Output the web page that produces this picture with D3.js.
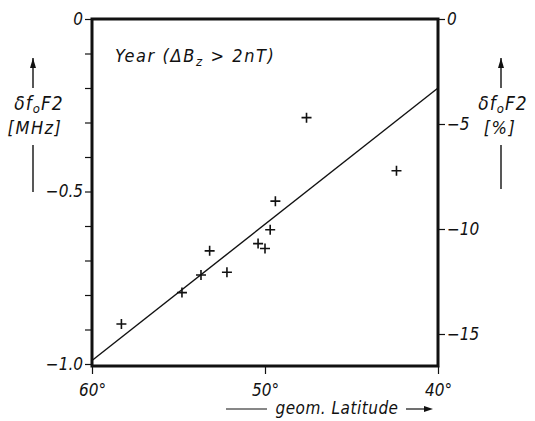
<!DOCTYPE html>
<html>
<head>
<meta charset="utf-8">
<script src="https://cdn.jsdelivr.net/npm/d3@7"></script>
<style>
  body { margin: 0; background: #fff; }
  text { font-family: "DejaVu Sans Condensed", "DejaVu Sans", sans-serif; font-style: italic; fill: #111; }
</style>
</head>
<body>
<svg id="chart" width="535" height="421"></svg>
<script>
// DATA
var latitude = [58.3, 54.8, 53.7, 53.2, 52.2, 50.4, 50.0, 49.7, 49.4, 47.6, 42.4];
var deltaFoF2 = [-0.884, -0.793, -0.742, -0.672, -0.734, -0.651, -0.665, -0.611, -0.528, -0.286, -0.440];
var fitLat = [60, 40];
var fitVal = [-0.99, -0.20];
var xTicks = [60, 50, 40];
var leftTicks = d3.range(0, 11).map(function(i) { return -i / 10; });
var leftLabels = [0, -0.5, -1.0];
var rightTicks = [0, -5, -10, -15];

var svg = d3.select('#chart');
var pLeft = 92, pRight = 438, pTop = 19, pBottom = 364, frameBottom = 366;

// Scales
var x = d3.scaleLinear().domain([60, 40]).range([pLeft, pRight]);
var y = d3.scaleLinear().domain([0, -1]).range([pTop, pBottom]);
var yPct = d3.scaleLinear().domain([0, -5]).range([pTop, 124]);

// Frame
svg.append('rect')
   .attr('x', pLeft).attr('y', pTop)
   .attr('width', pRight - pLeft).attr('height', frameBottom - pTop)
   .style('fill', 'none').style('stroke', '#111').style('stroke-width', 3);

// Left axis
var leftAxis = d3.axisLeft(y).tickValues(leftTicks).tickSize(7).tickPadding(2)
   .tickFormat(function(d) {
       var hit = leftLabels.some(function(v) { return Math.abs(v - d) < 1e-9; });
       if (!hit) return '';
       return d === 0 ? '0' : d3.format('.1f')(d);
   });
svg.append('g').attr('transform', 'translate(' + pLeft + ',0)').call(leftAxis);

// Right axis
var rightAxis = d3.axisRight(yPct).tickValues(rightTicks).tickSize(7).tickPadding(2)
   .tickFormat(d3.format('d'));
svg.append('g').attr('transform', 'translate(' + pRight + ',0)').call(rightAxis);

// Bottom axis
var bottomAxis = d3.axisBottom(x).tickValues(xTicks).tickSize(8).tickPadding(10)
   .tickFormat(function(d) { return d + '°'; });
svg.append('g').attr('transform', 'translate(0,' + frameBottom + ')').call(bottomAxis);

svg.selectAll('.domain').remove();
svg.selectAll('.tick line').style('stroke', '#111').style('stroke-width', 1.2);
svg.selectAll('.tick text').style('font-size', '17px').style('font-family', '"DejaVu Sans Condensed", sans-serif').style('font-style', 'italic').attr('fill', '#111');

// Regression line
var line = d3.line().x(function(d) { return x(d[0]); }).y(function(d) { return y(d[1]); });
svg.append('path')
   .datum(d3.zip(fitLat, fitVal))
   .attr('d', line)
   .style('fill', 'none').style('stroke', '#111').style('stroke-width', 1.4);

// Data points
var pts = d3.zip(latitude, deltaFoF2);
svg.selectAll('path.pt').data(pts).enter().append('path')
   .attr('class', 'pt')
   .attr('d', function(d) {
       var cx = x(d[0]), cy = y(d[1]), s = 5;
       return 'M' + (cx - s) + ',' + cy + 'H' + (cx + s) + 'M' + cx + ',' + (cy - s) + 'V' + (cy + s);
   })
   .style('stroke', '#111').style('stroke-width', 1.6);

// Title
var title = svg.append('text').attr('x', 115).attr('y', 62).style('font-size', '18px').style('letter-spacing', '1.6px');
title.append('tspan').text('Year (');
title.append('tspan').text('ΔB');
title.append('tspan').attr('dy', 4).style('font-size', '13px').text('z');
title.append('tspan').attr('dy', -4).text(' > 2nT)');

// Axis labels
function arrowUp(cx, y1, y2) {
    svg.append('line').attr('x1', cx).attr('x2', cx).attr('y1', y1).attr('y2', y2)
       .style('stroke', '#111').style('stroke-width', 1.4);
    svg.append('path').attr('d', 'M' + (cx - 3) + ',' + (y1 + 10) + 'L' + cx + ',' + y1 + 'L' + (cx + 3) + ',' + (y1 + 10) + 'Z')
       .style('fill', '#111');
}
function foLabel(cx, yb) {
    var t = svg.append('text').attr('x', cx).attr('y', yb).attr('text-anchor', 'middle').style('font-size', '19px').style('letter-spacing', '1px');
    t.append('tspan').text('δf');
    t.append('tspan').attr('dy', 3).style('font-size', '13px').text('o');
    t.append('tspan').attr('dy', -3).text('F2');
}
arrowUp(33, 58, 88);
foLabel(39, 110);
svg.append('text').attr('x', 35).attr('y', 134).attr('text-anchor', 'middle').style('font-size', '18px').style('letter-spacing', '1.5px').text('[MHz]');
svg.append('line').attr('x1', 33).attr('x2', 33).attr('y1', 145).attr('y2', 192).style('stroke', '#111').style('stroke-width', 1.4);

arrowUp(501, 58, 88);
foLabel(503, 110);
svg.append('text').attr('x', 500).attr('y', 134).attr('text-anchor', 'middle').style('font-size', '18px').style('letter-spacing', '1.5px').text('[%]');
svg.append('line').attr('x1', 501).attr('x2', 501).attr('y1', 145).attr('y2', 189).style('stroke', '#111').style('stroke-width', 1.4);

// X label
svg.append('line').attr('x1', 226).attr('x2', 267).attr('y1', 409).attr('y2', 409).style('stroke', '#111').style('stroke-width', 1.2);
svg.append('text').attr('x', 337).attr('y', 414).attr('text-anchor', 'middle').style('font-size', '17px').style('letter-spacing', '0.5px').text('geom. Latitude');
svg.append('line').attr('x1', 406).attr('x2', 426).attr('y1', 409).attr('y2', 409).style('stroke', '#111').style('stroke-width', 1.2);
svg.append('path').attr('d', 'M424,406L433,409L424,412Z').style('fill', '#111');
</script>
</body>
</html>
